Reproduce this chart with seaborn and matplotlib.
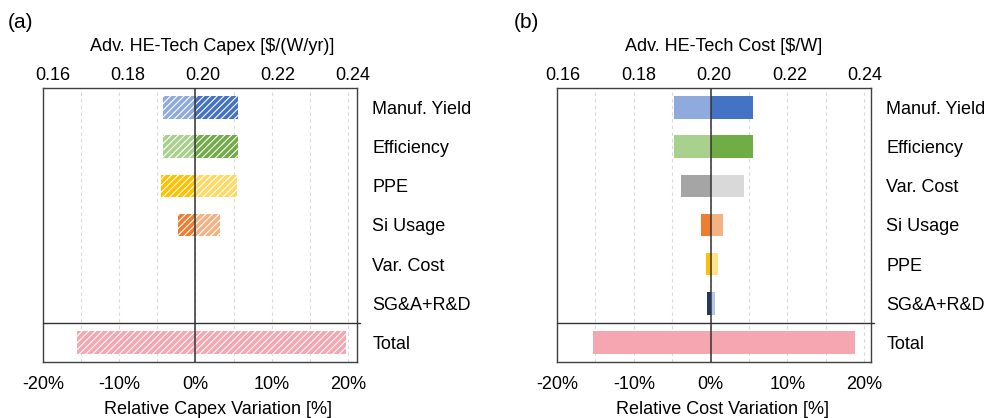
import matplotlib
matplotlib.use("Agg")
import matplotlib.pyplot as plt
import matplotlib.ticker as mticker
import seaborn as sns
import pandas as pd

# ---------------- data ----------------
cats_a = ["Manuf. Yield", "Efficiency", "PPE", "Si Usage", "Var. Cost", "SG&A+R&D", "Total"]
low_a = [-4.3, -4.3, -4.5, -2.3, 0.0, 0.0, -15.5]
high_a = [5.6, 5.6, 5.5, 3.2, 0.0, 0.0, 19.7]

cats_b = ["Manuf. Yield", "Efficiency", "Var. Cost", "Si Usage", "PPE", "SG&A+R&D", "Total"]
low_b = [-4.7, -4.7, -3.9, -1.3, -0.6, -0.4, -15.3]
high_b = [5.5, 5.5, 4.4, 1.6, 1.0, 0.6, 18.8]

top_ticks = [0.16, 0.18, 0.20, 0.22, 0.24]
bottom_ticks = [-20, -10, 0, 10, 20]

low_colors = {"Manuf. Yield": "#8FAADC", "Efficiency": "#A9D18E", "PPE": "#FFC000",
              "Si Usage": "#ED7D31", "Var. Cost": "#A5A5A5", "SG&A+R&D": "#203864",
              "Total": "#F4A7B0"}
high_colors = {"Manuf. Yield": "#4472C4", "Efficiency": "#70AD47", "PPE": "#FFE38A",
               "Si Usage": "#F4B183", "Var. Cost": "#D9D9D9", "SG&A+R&D": "#B4C7E7",
               "Total": "#F4A7B0"}
high_colors_a = dict(high_colors, PPE="#FFD966")

# ---------------- style ----------------
sns.set_theme(style="white")
plt.rcParams["font.family"] = ["Liberation Sans", "DejaVu Sans"]
plt.rcParams["text.color"] = "black"
plt.rcParams["axes.labelcolor"] = "black"
plt.rcParams["xtick.color"] = "black"
plt.rcParams["ytick.color"] = "black"
plt.rcParams["hatch.linewidth"] = 0.8
FS = 13

fig = plt.figure(figsize=(9.89, 4.18), dpi=100)
W, H = 989, 418


def panel(left_px, cats, low, high, hc, hatched, top_lim, bot_lim, top_title,
          bottom_title, letter, letter_x, title_x, xlabel_x):
    ax = fig.add_axes([left_px / W, 1 - 362 / H, 314 / W, 274 / H])
    df = pd.DataFrame({"cat": cats, "low": low, "high": high})
    sns.barplot(data=df, x="low", y="cat", hue="cat", order=cats, hue_order=cats,
                palette=low_colors, orient="h", width=0.58, saturation=1,
                errorbar=None, legend=False, ax=ax, zorder=2)
    sns.barplot(data=df, x="high", y="cat", hue="cat", order=cats, hue_order=cats,
                palette=hc, orient="h", width=0.58, saturation=1,
                errorbar=None, legend=False, ax=ax, zorder=2)
    for p in ax.patches:
        if hatched:
            p.set_hatch("/////")
            p.set_edgecolor("white")
            p.set_linewidth(0)
        else:
            p.set_linewidth(0)
    ax.set_xlim(*bot_lim)
    ax.set_ylim(6.5, -0.5)
    ax.set_xticks(bottom_ticks)
    ax.set_xticks([-15, -5, 5, 15], minor=True)
    ax.xaxis.set_major_formatter(mticker.FuncFormatter(lambda v, _: f"{v:.0f}%"))
    ax.grid(True, axis="x", which="both", color="#D9D9D9", linestyle=(0, (3, 3)),
            linewidth=0.8, zorder=0)
    ax.set_axisbelow(True)
    ax.tick_params(axis="x", which="both", length=0, pad=10, labelsize=FS)
    ax.yaxis.tick_right()
    ax.tick_params(axis="y", length=0, pad=11, labelsize=FS)
    ax.set_ylabel("")
    ax.set_xlabel(bottom_title, fontsize=FS)
    ax.xaxis.set_label_coords(xlabel_x, -0.175)
    ax.xaxis.label.set_va("center")
    for s in ax.spines.values():
        s.set_visible(True)
        s.set_color("#404040")
        s.set_linewidth(1.0)
    ax.axvline(0, color="#333333", linewidth=1.1, zorder=3)
    ax.axhline(5.5, xmin=0, xmax=1.01, color="#333333", linewidth=1.0, zorder=3,
               clip_on=False)

    tw = ax.twiny()
    tw.set_xlim(*top_lim)
    tw.set_xticks(top_ticks)
    tw.xaxis.set_major_formatter(mticker.FormatStrFormatter("%.2f"))
    tw.tick_params(axis="x", length=0, pad=3, labelsize=FS)
    tw.set_xlabel(top_title, fontsize=FS)
    tw.xaxis.set_label_coords(title_x, 1.15)
    tw.xaxis.label.set_va("center")
    for s in tw.spines.values():
        s.set_visible(False)
    tw.grid(False)

    fig.text(letter_x / W, 1 - 22 / H, letter, fontsize=15, va="center", ha="left")
    return ax


panel(43, cats_a, low_a, high_a, high_colors_a, True, (0.1573, 0.2411), (-19.85, 21.2),
      r"Adv. HE-Tech Capex [\$/(W/yr)]", "Relative Capex Variation [%]", "(a)", 8,
      0.54, 0.556)
panel(557, cats_b, low_b, high_b, high_colors, False, (0.1584, 0.2416), (-19.7, 20.9),
      r"Adv. HE-Tech Cost [\$/W]", "Relative Cost Variation [%]", "(b)", 514,
      0.532, 0.527)

fig.savefig("out.png", dpi=100)
